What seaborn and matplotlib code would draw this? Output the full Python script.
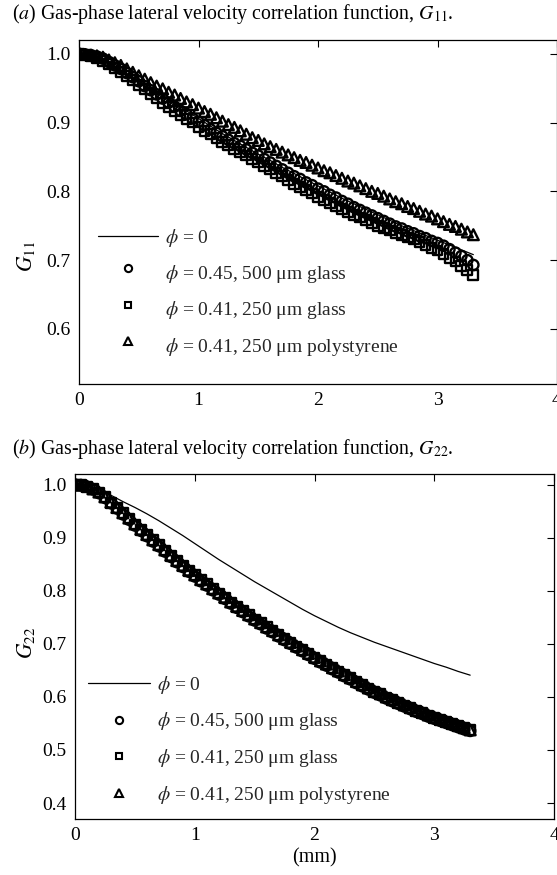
import numpy as np
import pandas as pd
import seaborn as sns
import matplotlib
matplotlib.use("Agg")
import matplotlib.pyplot as plt
from matplotlib.lines import Line2D
from matplotlib.legend_handler import HandlerLine2D
from matplotlib.transforms import Affine2D

# ---------------- data ----------------
x_pts = [0.00, 0.05, 0.10, 0.15, 0.20, 0.25, 0.30, 0.35, 0.40, 0.45,
         0.50, 0.55, 0.60, 0.65, 0.70, 0.75, 0.80, 0.85, 0.90, 0.95,
         1.00, 1.05, 1.10, 1.15, 1.20, 1.25, 1.30, 1.35, 1.40, 1.45,
         1.50, 1.55, 1.60, 1.65, 1.70, 1.75, 1.80, 1.85, 1.90, 1.95,
         2.00, 2.05, 2.10, 2.15, 2.20, 2.25, 2.30, 2.35, 2.40, 2.45,
         2.50, 2.55, 2.60, 2.65, 2.70, 2.75, 2.80, 2.85, 2.90, 2.95,
         3.00, 3.05, 3.10, 3.15, 3.20, 3.25, 3.30]

x_line = [0.0, 0.1, 0.2, 0.3, 0.4, 0.5, 0.6, 0.7, 0.8, 0.9,
          1.0, 1.1, 1.2, 1.3, 1.4, 1.5, 1.6, 1.7, 1.8, 1.9,
          2.0, 2.1, 2.2, 2.3, 2.4, 2.5, 2.6, 2.7, 2.8, 2.9,
          3.0, 3.1, 3.2, 3.3]

# panel (a) G11
g11_single = [1.000, 0.998, 0.993, 0.985, 0.975, 0.964, 0.952, 0.940, 0.928, 0.917,
              0.906, 0.895, 0.884, 0.874, 0.864, 0.854, 0.845, 0.835, 0.826, 0.817,
              0.808, 0.799, 0.790, 0.782, 0.774, 0.766, 0.758, 0.750, 0.743, 0.736,
              0.729, 0.722, 0.715, 0.708]

g11_glass500 = [1.000, 0.999, 0.998, 0.996, 0.993, 0.988, 0.983, 0.978, 0.972, 0.966,
                0.960, 0.953, 0.947, 0.941, 0.935, 0.929, 0.923, 0.917, 0.912, 0.906,
                0.901, 0.896, 0.890, 0.885, 0.880, 0.875, 0.870, 0.866, 0.861, 0.856,
                0.852, 0.847, 0.842, 0.837, 0.832, 0.827, 0.822, 0.818, 0.813, 0.809,
                0.804, 0.800, 0.795, 0.791, 0.786, 0.782, 0.777, 0.773, 0.769, 0.765,
                0.761, 0.757, 0.753, 0.749, 0.746, 0.742, 0.739, 0.735, 0.732, 0.728,
                0.725, 0.721, 0.716, 0.711, 0.706, 0.700, 0.693]

g11_glass250 = [1.000, 0.998, 0.996, 0.993, 0.990, 0.985, 0.979, 0.974, 0.968, 0.962,
                0.955, 0.949, 0.942, 0.936, 0.929, 0.923, 0.917, 0.911, 0.905, 0.900,
                0.894, 0.888, 0.883, 0.877, 0.872, 0.867, 0.862, 0.857, 0.852, 0.847,
                0.842, 0.837, 0.832, 0.827, 0.822, 0.816, 0.811, 0.806, 0.802, 0.797,
                0.792, 0.787, 0.783, 0.778, 0.774, 0.770, 0.766, 0.762, 0.758, 0.754,
                0.750, 0.747, 0.743, 0.740, 0.737, 0.733, 0.730, 0.726, 0.722, 0.718,
                0.714, 0.709, 0.703, 0.698, 0.692, 0.686, 0.679]

g11_poly250 = [1.000, 0.999, 0.998, 0.997, 0.995, 0.991, 0.987, 0.983, 0.978, 0.973,
               0.968, 0.963, 0.958, 0.953, 0.949, 0.944, 0.940, 0.935, 0.930, 0.926,
               0.921, 0.916, 0.912, 0.907, 0.902, 0.897, 0.893, 0.888, 0.883, 0.878,
               0.874, 0.869, 0.865, 0.861, 0.857, 0.853, 0.849, 0.845, 0.842, 0.838,
               0.834, 0.830, 0.827, 0.823, 0.819, 0.815, 0.812, 0.808, 0.804, 0.800,
               0.797, 0.793, 0.789, 0.785, 0.782, 0.778, 0.775, 0.771, 0.767, 0.764,
               0.760, 0.756, 0.752, 0.749, 0.745, 0.741, 0.737]

# panel (b) G22
g22_single = [1.000, 0.998, 0.990, 0.980, 0.968, 0.957, 0.945, 0.932, 0.918, 0.904,
              0.889, 0.874, 0.859, 0.845, 0.831, 0.817, 0.804, 0.791, 0.778, 0.765,
              0.753, 0.742, 0.731, 0.721, 0.712, 0.703, 0.695, 0.687, 0.679, 0.671,
              0.663, 0.656, 0.648, 0.641]

g22_glass500 = [1.000, 0.999, 0.996, 0.991, 0.984, 0.975, 0.965, 0.955, 0.944, 0.934,
                0.923, 0.913, 0.903, 0.893, 0.884, 0.874, 0.864, 0.854, 0.845, 0.836,
                0.827, 0.818, 0.810, 0.801, 0.793, 0.785, 0.776, 0.768, 0.760, 0.752,
                0.744, 0.737, 0.729, 0.722, 0.714, 0.707, 0.700, 0.693, 0.686, 0.679,
                0.672, 0.665, 0.659, 0.652, 0.646, 0.639, 0.633, 0.626, 0.620, 0.614,
                0.608, 0.603, 0.597, 0.592, 0.587, 0.582, 0.577, 0.572, 0.568, 0.563,
                0.559, 0.555, 0.551, 0.547, 0.543, 0.539, 0.536]

g22_glass250 = [1.000, 0.999, 0.996, 0.991, 0.985, 0.976, 0.966, 0.956, 0.946, 0.936,
                0.925, 0.915, 0.905, 0.895, 0.886, 0.876, 0.866, 0.856, 0.847, 0.838,
                0.829, 0.820, 0.812, 0.803, 0.795, 0.787, 0.778, 0.770, 0.762, 0.754,
                0.746, 0.739, 0.731, 0.724, 0.716, 0.709, 0.702, 0.695, 0.688, 0.681,
                0.674, 0.667, 0.661, 0.654, 0.648, 0.641, 0.635, 0.628, 0.622, 0.616,
                0.610, 0.605, 0.599, 0.594, 0.589, 0.584, 0.579, 0.574, 0.570, 0.565,
                0.561, 0.557, 0.553, 0.549, 0.545, 0.541, 0.537]

g22_poly250 = [1.000, 0.999, 0.997, 0.992, 0.986, 0.977, 0.967, 0.957, 0.947, 0.937,
               0.926, 0.916, 0.906, 0.896, 0.887, 0.877, 0.867, 0.857, 0.848, 0.839,
               0.830, 0.821, 0.813, 0.804, 0.796, 0.788, 0.779, 0.771, 0.763, 0.755,
               0.747, 0.740, 0.732, 0.725, 0.717, 0.710, 0.703, 0.696, 0.689, 0.682,
               0.675, 0.668, 0.662, 0.655, 0.649, 0.642, 0.636, 0.629, 0.623, 0.617,
               0.611, 0.606, 0.600, 0.595, 0.590, 0.585, 0.580, 0.575, 0.571, 0.566,
               0.562, 0.558, 0.554, 0.550, 0.546, 0.542, 0.538]

labels = [r"$\phi$ = 0",
          r"$\phi$ = 0.45, 500 μm glass",
          r"$\phi$ = 0.41, 250 μm glass",
          r"$\phi$ = 0.41, 250 μm polystyrene"]
titles = [r"($\mathit{a}$) Gas-phase lateral velocity correlation function, $G_{11}$.",
          r"($\mathit{b}$) Gas-phase lateral velocity correlation function, $G_{22}$."]
ylabels = [r"$G_{11}$", r"$G_{22}$"]
xticks = [0, 1, 2, 3, 4]
yticks_a = [0.6, 0.7, 0.8, 0.9, 1.0]
yticks_b = [0.4, 0.5, 0.6, 0.7, 0.8, 0.9, 1.0]

# ---------------- style ----------------
sns.set_theme(style="white")
plt.rcParams["font.family"] = ["Liberation Serif", "DejaVu Serif"]
plt.rcParams["mathtext.fontset"] = "stix"
plt.rcParams["axes.linewidth"] = 0.9

W, H = 557, 875
fig = plt.figure(figsize=(W / 100, H / 100), dpi=100)

def fx(px):
    return px / W

def fy(py):
    return 1 - py / H

ax_a = fig.add_axes([fx(79), fy(384), fx(557) - fx(79), fy(40) - fy(384)])
ax_b = fig.add_axes([fx(75), fy(819), fx(554) - fx(75), fy(474) - fy(819)])


class ShiftedMarker(HandlerLine2D):
    def __init__(self, dy=0, **kw):
        super().__init__(**kw)
        self.dy = dy

    def create_artists(self, legend, orig_handle, xdescent, ydescent, width,
                       height, fontsize, trans):
        arts = super().create_artists(legend, orig_handle, xdescent, ydescent,
                                      width, height, fontsize, trans)
        for a in arts:
            a.set_transform(trans + Affine2D().translate(0, self.dy))
        return arts


def draw(ax, line_y, glass500, glass250, poly250, yl, yt, title, ylabel,
         leg_anchor, ylabel_pos, title_y, marker_dy, lspace, hlen):
    sns.lineplot(x=x_line, y=line_y, ax=ax, color="black", linewidth=0.9)
    kw = dict(facecolor="none", edgecolor="black", linewidth=1.7, ax=ax, zorder=3)
    sns.scatterplot(x=x_pts, y=glass500, marker="o", s=55, **kw)
    sns.scatterplot(x=x_pts, y=glass250, marker="s", s=50, **kw)
    sns.scatterplot(x=x_pts, y=poly250, marker="^", s=60, **kw)
    ax.set_xlim(0, 4)
    ax.set_ylim(*yl)
    ax.set_xticks(xticks)
    ax.set_xticklabels([str(t) for t in xticks])
    ax.set_yticks(yt)
    ax.set_yticklabels([f"{t:.1f}" for t in yt])
    ax.tick_params(direction="in", length=5, width=0.8, top=True, right=True,
                   labelsize=14, colors="black", pad=6)
    for s in ax.spines.values():
        s.set_color("black")
        s.set_visible(True)
    ax.set_ylabel(ylabel, fontsize=15.5, color="black")
    ax.yaxis.set_label_coords(*ylabel_pos)
    ax.set_xlabel("")

    handles = [Line2D([], [], color="black", linewidth=0.9),
               Line2D([], [], linestyle="", marker="o", markersize=5.2,
                      markerfacecolor="none", markeredgecolor="black", markeredgewidth=1.5),
               Line2D([], [], linestyle="", marker="s", markersize=4.8,
                      markerfacecolor="none", markeredgecolor="black", markeredgewidth=1.5),
               Line2D([], [], linestyle="", marker="^", markersize=5.6,
                      markerfacecolor="none", markeredgecolor="black", markeredgewidth=1.5)]
    hmap = {h: ShiftedMarker(dy=marker_dy) for h in handles[1:]}
    ax.legend(handles, labels, loc="upper left", bbox_to_anchor=leg_anchor,
              frameon=False, borderpad=0, borderaxespad=0, handlelength=hlen,
              handletextpad=0.36, labelspacing=lspace, fontsize=14,
              handler_map=hmap)
    fig.text(fx(12), fy(title_y), title, fontsize=14.3, ha="left", va="center",
             color="black")


draw(ax_a, g11_single, g11_glass500, g11_glass250, g11_poly250, (0.52, 1.02),
     yticks_a, titles[0], ylabels[0], (0.04, 0.4576), (-0.088, 0.37), 14, 4, 0.74, 3.1)
draw(ax_b, g22_single, g22_glass500, g22_glass250, g22_poly250, (0.37, 1.02),
     yticks_b, titles[1], ylabels[1], (0.027, 0.4214), (-0.079, 0.51), 449, 0, 0.76, 3.2)

ax_b.set_xlabel("(mm)", fontsize=14.5, color="black", labelpad=3)

fig.savefig("out.png", dpi=100)
